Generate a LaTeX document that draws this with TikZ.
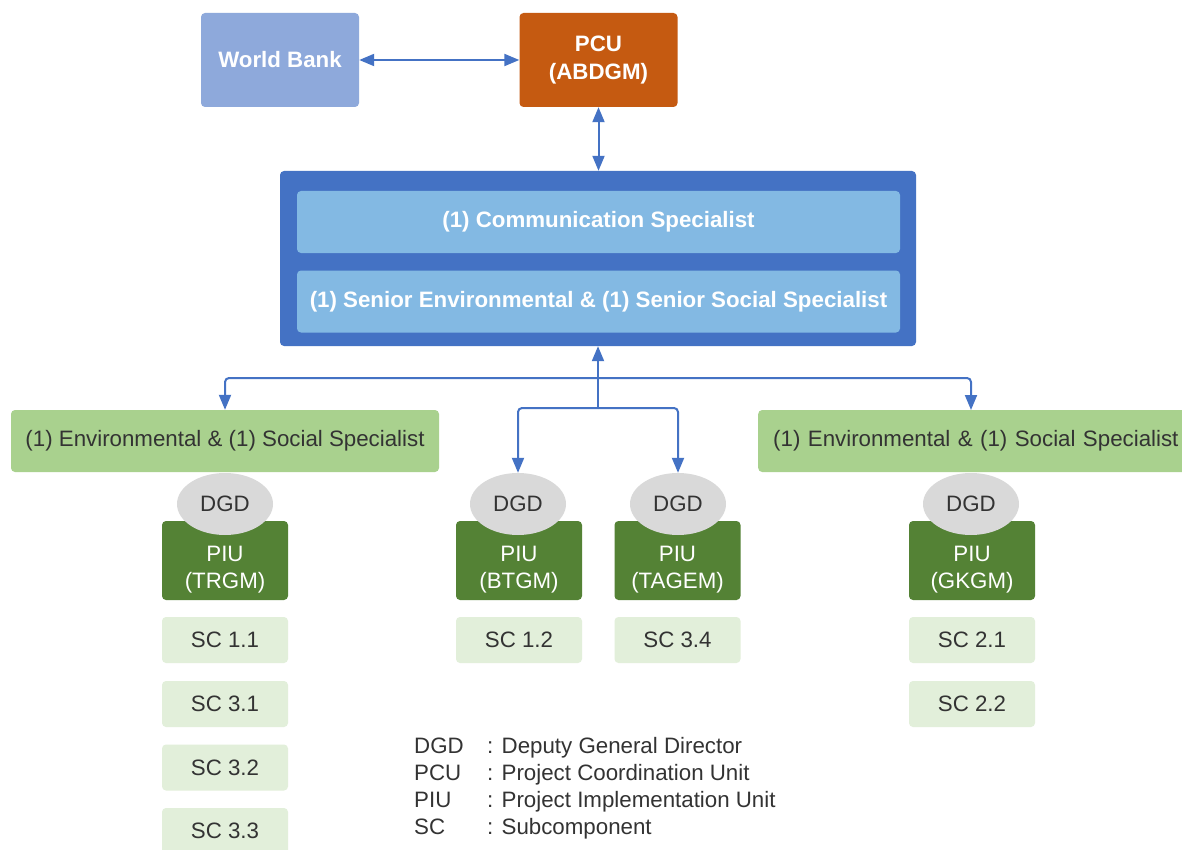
\documentclass[tikz,border=0pt]{standalone}
\usepackage{fontspec}
\setmainfont{Liberation Sans}
\usetikzlibrary{arrows.meta,shapes.geometric}
\definecolor{wbblue}{HTML}{8EA9DB}
\definecolor{pcuorange}{HTML}{C55A11}
\definecolor{bigblue}{HTML}{4472C4}
\definecolor{innerblue}{HTML}{83B9E3}
\definecolor{envgreen}{HTML}{A9D18E}
\definecolor{piugreen}{HTML}{548235}
\definecolor{scgreen}{HTML}{E2EFDA}
\definecolor{dgdgray}{HTML}{D9D9D9}
\definecolor{txtdark}{HTML}{333333}
\newcommand{\fs}{\fontsize{22.3}{27.5}\selectfont}
\tikzset{
  base/.style={inner sep=0pt, rounded corners=4pt, align=center, font=\fs},
  topbox/.style={base, text=white, font=\fs\bfseries, minimum width=158pt, minimum height=94pt},
  innerbox/.style={base, fill=innerblue, text=white, font=\fs\bfseries, minimum width=603pt, minimum height=62pt},
  envbox/.style={base, fill=envgreen, text=txtdark, minimum height=62pt},
  piubox/.style={base, fill=piugreen, minimum width=126pt, minimum height=79pt},
  piutext/.style={inner sep=0pt, align=center, text=white, font=\fs},
  scbox/.style={base, fill=scgreen, text=txtdark, minimum width=126pt, minimum height=46pt},
  dgd/.style={ellipse, fill=dgdgray, text=txtdark, inner sep=0pt, minimum width=96pt, minimum height=62pt, font=\fs},
  conn/.style={draw=bigblue, line width=2pt, rounded corners=4pt},
  tip/.style={-{Triangle[length=15pt,width=12pt]}},
  tips/.style={{Triangle[length=15pt,width=12pt]}-{Triangle[length=15pt,width=12pt]}},
  leg/.style={anchor=base west, inner sep=0pt, text=txtdark, font=\fs}
}
\begin{document}
\begin{tikzpicture}[x=1pt,y=-1pt]
\path[use as bounding box, fill=white] (0,0) rectangle (1182,850);
\clip (0,0) rectangle (1182,850);
% top
\node[topbox, fill=wbblue] (wb) at (280,60) {World Bank};
\node[topbox, fill=pcuorange] (pcu) at (598.5,60) {PCU\\(ABDGM)};
% big box
\node[base, fill=bigblue, minimum width=636pt, minimum height=175pt] (big) at (598,258.5) {};
\node[innerbox] (comm) at (598.5,222) {(1) Communication Specialist};
\node[innerbox] (senior) at (598.5,301.5) {(1) Senior Environmental \& (1) Senior Social Specialist};
% env boxes
\node[envbox, minimum width=428pt] (envL) at (225,441) {(1) Environmental \& (1) Social Specialist};
\node[envbox, anchor=west, inner xsep=15pt, text width=410pt, align=left] (envR) at (758,441) {(1) Environmental \& (1) Social Specialist};
% PIU boxes
\node[piubox] (piu1) at (225,560.5) {};
\node[piubox] (piu2) at (519,560.5) {};
\node[piubox] (piu3) at (677.5,560.5) {};
\node[piubox] (piu4) at (972,560.5) {};
\node[piutext] (piu1t) at (225,569.5) {PIU\\(TRGM)};
\node[piutext] (piu2t) at (519,569.5) {PIU\\(BTGM)};
\node[piutext] (piu3t) at (677.5,569.5) {PIU\\(TAGEM)};
\node[piutext] (piu4t) at (972,569.5) {PIU\\(GKGM)};
% DGD ellipses
\node[dgd] (dgd1) at (225,504) {DGD};
\node[dgd] (dgd2) at (518,504) {DGD};
\node[dgd] (dgd3) at (678,504) {DGD};
\node[dgd] (dgd4) at (971,504) {DGD};
% SC boxes
\node[scbox] (sc11) at (225,640) {SC 1.1};
\node[scbox] (sc31) at (225,704) {SC 3.1};
\node[scbox] (sc32) at (225,767.5) {SC 3.2};
\node[scbox] (sc33) at (225,831) {SC 3.3};
\node[scbox] (sc12) at (519,640) {SC 1.2};
\node[scbox] (sc34) at (677.5,640) {SC 3.4};
\node[scbox] (sc21) at (972,640) {SC 2.1};
\node[scbox] (sc22) at (972,704) {SC 2.2};
% connectors
\draw[conn, tips] (wb.east) -- (pcu.west);
\draw[conn, tips] (pcu.south) -- (big.north -| pcu.south);
\coordinate (fork1) at (598,378);
\coordinate (fork2) at (598,408);
\draw[conn, tip] (fork1) -- (big.south -| fork1);
\draw[conn] (fork1) -- (fork2);
\draw[conn, tip] (fork1) -| (envL.north);
\draw[conn, tip] (fork1) -| (971,410);
\draw[conn, tip] (fork2) -| (dgd2.north);
\draw[conn, tip] (fork2) -| (dgd3.north);
% legend
\node[leg] (la) at (414,753) {DGD};
\node[leg] (lb) at (414,780) {PCU};
\node[leg] (lc) at (414,807) {PIU};
\node[leg] (ld) at (414,834) {SC};
\node[leg] (ma) at (487,753) {: Deputy General Director};
\node[leg] (mb) at (487,780) {: Project Coordination Unit};
\node[leg] (mc) at (487,807) {: Project Implementation Unit};
\node[leg] (md) at (487,834) {: Subcomponent};
\end{tikzpicture}
\end{document}
